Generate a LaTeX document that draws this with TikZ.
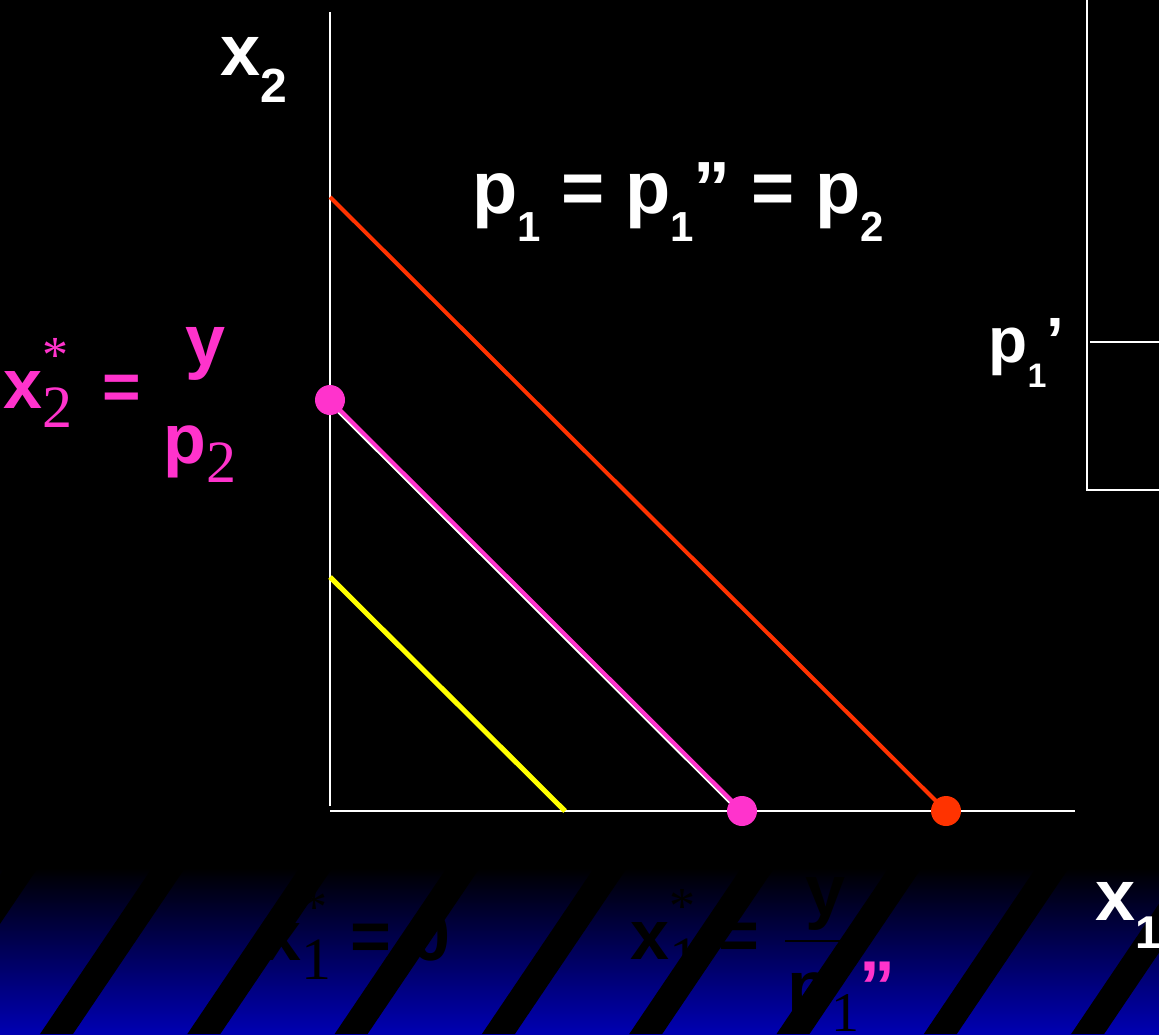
\documentclass[tikz,border=0pt]{standalone}
\usepackage{fontspec}
\setmainfont{Liberation Sans}
\newfontfamily\timesfont{Liberation Serif}
\usetikzlibrary{calc}
\definecolor{linered}{RGB}{255,51,0}
\definecolor{linepink}{RGB}{255,51,204}
\definecolor{lineyellow}{RGB}{255,255,0}
\definecolor{slideblue}{RGB}{0,0,178}
\tikzstyle{axis} = [white, line width=1.2pt]
\tikzstyle{budget} = [line width=2pt]
\tikzstyle{dot} = [circle, inner sep=0pt, minimum size=15pt]
\tikzstyle{label} = [inner sep=0pt, anchor=base west, font=\bfseries]
% lowered subscript: drop, size, text
\newcommand{\lowsub}[3]{\raisebox{-#1}{\fontsize{#2}{#2}\selectfont #3}}
\newcommand{\starsup}[1]{\rlap{\raisebox{#1}{\timesfont\mdseries\fontsize{26}{26}\selectfont *}}}

\begin{document}
\begin{tikzpicture}[x=0.5pt, y=-0.5pt]
	\useasboundingbox (0,0) rectangle (1159,1034);
	\fill[black] (0,0) rectangle (1159,1034);

	%% footer of the slide: gradient with slanted stripes
	\shade[top color=black, middle color=slideblue!45!black, bottom color=slideblue]
	  (0,868) rectangle (1159,1034);

	% black text hidden in the footer
	\node[label, text=black] (xonezero) at (262,960)
	  {\fontsize{35}{35}\selectfont x\starsup{18pt}\lowsub{9.5pt}{30}{\timesfont\mdseries 1} = 0};
	\node[label, text=black] (xonestar) at (630,959)
	  {\fontsize{35}{35}\selectfont x\starsup{18pt}\lowsub{9.5pt}{30}{\timesfont\mdseries 1} =};
	\node[label, text=black] (fracnum) at (805,915) {\fontsize{36}{36}\selectfont y};
	\node[label, text=black] (fracden) at (787,1011)
	  {\fontsize{36}{36}\selectfont p\lowsub{10pt}{28}{\timesfont\mdseries 1}\textcolor{linepink}{”}};
	\coordinate (F1) at (785,941);
	\coordinate (F2) at (847,941);
	\draw[black, line width=0.8pt] (F1) -- (F2);

	\begin{scope}
	  \clip (0,868) rectangle (1159,1034);
	  \foreach \i in {-1,0,...,7}
	  {
	    \pgfmathsetmacro{\L}{40+147.3*\i}
	    \fill[black] (\L,1034) -- ++(33,0) -- ++(112,-166) -- ++(-33,0) -- cycle;
	  }
	\end{scope}

	%% axes
	\coordinate (O) at (330,811); % origin
	\coordinate (Y) at (330,12);  % top of x2 axis
	\coordinate (X) at (1075,811); % end of x1 axis
	\draw[axis] (O) ++(0,-5) -- (Y);
	\draw[axis] (O) -- (X);

	%% box on the right (cut off)
	\draw[axis] (1087,0) -- (1087,490) -- (1159,490);
	\draw[axis] (1090,342) -- (1159,342);

	%% budget lines
	\coordinate (R1) at (330,197); % red, top
	\coordinate (R2) at (946,811); % red, bottom
	\coordinate (M1) at (330,400); % pink, top
	\coordinate (M2) at (742,811); % pink, bottom
	\coordinate (Y1) at (330,577); % yellow, top
	\coordinate (Y2) at (565,811); % yellow, bottom

	\draw[budget, lineyellow, line width=2.5pt] (Y1) -- (Y2);
	\draw[budget, linered] (R1) -- (R2);
	\draw[white, line width=1pt] ($(M1)+(-2.1,2.1)$) -- ($(M2)+(-2.1,2.1)$);
	\draw[budget, linepink] (M1) -- (M2);

	% corner solutions
	\node[dot, fill=linepink] (m1dot) at (M1) {};
	\node[dot, fill=linepink] (m2dot) at (M2) {};
	\node[dot, fill=linered] (r2dot) at (R2) {};

	%% labels
	\node[label, text=white] (xtwo) at (220,75)
	  {\fontsize{36}{36}\selectfont x\lowsub{13.5pt}{24}{2}};
	\node[label, text=white] (xone) at (1095,920)
	  {\fontsize{36}{36}\selectfont x\lowsub{14pt}{23}{1}};
	\node[label, text=white] (prices) at (472,213)
	  {\fontsize{37}{37}\selectfont p\lowsub{14pt}{21}{1} = p\lowsub{14pt}{21}{1}” = p\lowsub{14pt}{21}{2}};
	\node[label, text=white] (ponepr) at (988,362)
	  {\fontsize{32}{32}\selectfont p\lowsub{12.5pt}{17}{1}’};

	% pink solution for x2
	\node[label, text=linepink] (xtwostar) at (3,408)
	  {\fontsize{35}{35}\selectfont x\starsup{18pt}\lowsub{9.5pt}{30}{\timesfont\mdseries 2}};
	\node[label, text=linepink] (eqpink) at (102,409) {\fontsize{33}{33}\selectfont =};
	\node[label, text=linepink] (ypink) at (185,365) {\fontsize{36}{36}\selectfont y};
	\node[label, text=linepink] (ptwopink) at (163,463)
	  {\fontsize{35}{35}\selectfont p\lowsub{9.5pt}{30}{\timesfont\mdseries 2}};
\end{tikzpicture}
\end{document}
